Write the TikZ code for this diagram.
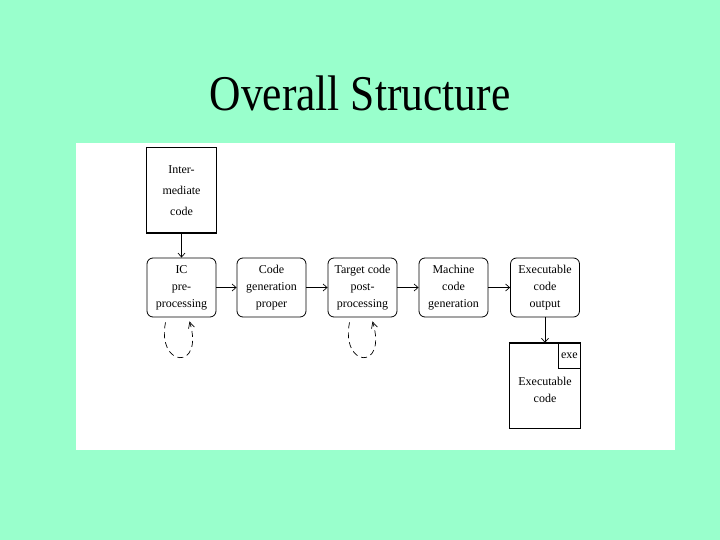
\documentclass[tikz,border=0pt]{standalone}
\usepackage{fontspec}
\setmainfont{Liberation Serif}
\usetikzlibrary{arrows.meta}
\definecolor{mint}{HTML}{99FFCC}
\begin{document}
\begin{tikzpicture}[x=1pt,y=-1pt,
  stage/.style={draw,line width=0.8pt,rounded corners=6pt,minimum width=69pt,minimum height=59pt,inner sep=0pt,align=center,font=\fontsize{12}{17}\selectfont},
  doc/.style={minimum width=69pt,inner sep=0pt,align=center,font=\fontsize{12}{21}\selectfont},
  flow/.style={line width=0.7pt,-{Straight Barb[length=4pt,width=7pt]}},
  loop/.style={line width=0.7pt,dash pattern=on 6pt off 4pt,-{Straight Barb[length=6pt,width=6pt]}}]
\fill[mint] (0,0) rectangle (720,540);
\useasboundingbox (0,0) rectangle (720,540);
\fill[white] (76,143) rectangle (675,450);
\node[font=\fontsize{50}{50}\selectfont,xscale=0.87,anchor=base] (title) at (360,111) {Overall Structure};
% Intermediate code document
\node[doc,minimum height=85pt] (ic) at (181.5,190.5) {Inter-\\mediate\\code};
\draw[line width=0.7pt] (ic.south west) -- (ic.north west) -- (ic.north east) -- (ic.south east);
\draw[line width=1.8pt] ([xshift=-0.4pt]ic.south west) -- ([xshift=0.4pt]ic.south east);
% stages
\node[stage] (pre) at (181.5,287.5) {IC\\pre-\\processing};
\node[stage] (gen) at (271.5,287.5) {Code\\generation\\proper};
\node[stage] (post) at (362.5,287.5) {Target code\\post-\\processing};
\node[stage] (mach) at (453.5,287.5) {Machine\\code\\generation};
\node[stage] (out) at (545,287.5) {Executable\\code\\output};
% executable code document
\node[doc,minimum width=71pt,minimum height=85pt] (exe) at (545,385.5) {};
\node[doc,font=\fontsize{12}{17}\selectfont] (exetext) at (545,389.5) {Executable\\code};
\draw[line width=0.7pt] (exe.north west) -- (exe.south west) -- (exe.south east) -- (exe.north east);
\draw[line width=1.8pt] ([xshift=-0.4pt]exe.north west) -- ([xshift=0.4pt]exe.north east);
\node[draw,line width=0.7pt,anchor=north east,minimum width=22pt,minimum height=25pt,inner sep=0pt,font=\fontsize{12}{13}\selectfont] (tag) at (exe.north east) {exe};
% flows
\draw[flow] (ic.south) -- (pre.north);
\draw[flow] (pre.east) -- (gen.west);
\draw[flow] (gen.east) -- (post.west);
\draw[flow] (post.east) -- (mach.west);
\draw[flow] (mach.east) -- (out.west);
\draw[flow] (out.south) -- (exe.north);
% self loops
\coordinate (p1) at ([xshift=-16pt,yshift=-5pt]pre.south);
\coordinate (p2) at ([xshift=8pt,yshift=-4pt]pre.south);
\draw[loop] (p1) .. controls +(-9,45) and +(15,50) .. (p2);
\coordinate (q1) at ([xshift=-13pt,yshift=-5pt]post.south);
\coordinate (q2) at ([xshift=10pt,yshift=-4pt]post.south);
\draw[loop] (q1) .. controls +(-9,45) and +(15,50) .. (q2);
\end{tikzpicture}
\end{document}
